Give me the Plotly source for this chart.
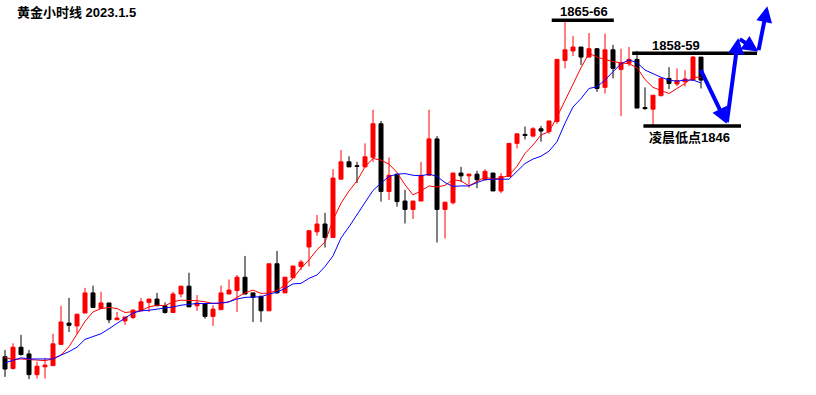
import plotly.graph_objects as go

# ---- data (hourly gold candles) ----
open_ = [1804.8, 1802.7, 1806.5, 1805.3, 1801.6, 1803.0, 1803.2, 1807.0, 1810.8, 1810.3,
         1812.6, 1816.2, 1813.4, 1814.4, 1811.4, 1811.2, 1811.8, 1813.0, 1814.5, 1815.1,
         1813.9, 1812.7, 1816.0, 1817.4, 1813.9, 1814.3, 1812.0, 1813.2, 1816.0, 1816.6,
         1819.0, 1816.2, 1815.6, 1813.0, 1821.4, 1816.2, 1818.9, 1820.9, 1824.4, 1827.1,
         1828.5, 1826.1, 1836.5, 1839.6, 1838.9, 1838.7, 1840.4, 1846.4, 1834.3, 1837.4,
         1832.6, 1831.1, 1832.6, 1837.2, 1843.7, 1831.1, 1832.3, 1837.6, 1837.1, 1837.4,
         1836.4, 1837.6, 1834.4, 1837.0, 1842.9, 1844.5, 1844.2, 1845.5, 1845.0, 1846.8,
         1857.7, 1859.4, 1860.1, 1858.3, 1859.8, 1852.9, 1859.6, 1856.1, 1857.2, 1857.9,
         1849.3, 1849.0, 1851.4, 1854.5, 1853.5, 1853.9, 1854.2, 1858.3]
high = [1806.0, 1807.2, 1808.7, 1806.0, 1803.9, 1804.6, 1808.9, 1813.9, 1815.3, 1812.4,
        1817.1, 1817.5, 1816.4, 1814.4, 1812.8, 1811.9, 1813.3, 1815.3, 1815.1, 1816.2,
        1814.5, 1816.4, 1817.4, 1819.8, 1815.8, 1814.3, 1814.0, 1817.5, 1818.6, 1819.4,
        1822.8, 1816.2, 1815.6, 1821.4, 1823.7, 1819.0, 1821.0, 1822.1, 1827.3, 1830.1,
        1830.5, 1838.3, 1841.7, 1840.6, 1839.6, 1842.9, 1848.9, 1846.9, 1840.4, 1837.4,
        1834.6, 1832.6, 1839.6, 1848.9, 1844.2, 1832.4, 1837.6, 1838.7, 1837.5, 1838.0,
        1838.3, 1837.6, 1837.6, 1842.9, 1844.6, 1845.9, 1845.8, 1846.0, 1846.9, 1857.9,
        1864.8, 1862.1, 1860.1, 1862.6, 1859.9, 1862.5, 1860.5, 1859.8, 1860.1, 1859.4,
        1852.9, 1851.5, 1854.5, 1856.5, 1856.3, 1856.0, 1858.5, 1858.3]
low = [1801.2, 1802.5, 1805.0, 1800.8, 1800.9, 1800.9, 1803.2, 1807.0, 1809.2, 1808.9,
       1812.6, 1813.6, 1813.4, 1810.8, 1811.4, 1810.5, 1811.5, 1813.0, 1812.8, 1813.9,
       1812.5, 1812.7, 1815.4, 1813.7, 1813.0, 1811.6, 1810.3, 1813.2, 1816.0, 1812.8,
       1816.0, 1811.0, 1811.0, 1813.0, 1816.1, 1816.2, 1818.9, 1820.3, 1820.9, 1826.4,
       1824.3, 1826.1, 1836.5, 1838.7, 1835.8, 1838.7, 1839.6, 1832.5, 1832.8, 1831.6,
       1828.6, 1829.4, 1832.6, 1837.2, 1825.2, 1825.9, 1832.0, 1836.0, 1835.0, 1834.9,
       1836.4, 1834.4, 1834.0, 1837.0, 1842.0, 1843.6, 1844.0, 1843.2, 1844.6, 1846.4,
       1856.3, 1858.5, 1856.9, 1858.3, 1852.1, 1851.8, 1854.5, 1847.8, 1856.7, 1849.2,
       1848.9, 1846.2, 1851.4, 1852.6, 1853.1, 1853.1, 1854.2, 1852.7]
close = [1802.6, 1806.5, 1805.2, 1801.6, 1803.1, 1803.3, 1807.1, 1811.0, 1810.4, 1812.4,
         1816.2, 1813.6, 1814.4, 1811.4, 1811.7, 1811.9, 1813.1, 1814.6, 1815.1, 1813.9,
         1812.7, 1816.0, 1817.4, 1813.7, 1814.4, 1812.0, 1813.3, 1816.2, 1816.7, 1819.0,
         1816.0, 1815.4, 1813.0, 1821.4, 1816.2, 1819.0, 1821.0, 1821.7, 1827.3, 1828.5,
         1826.1, 1836.7, 1839.6, 1838.7, 1838.8, 1840.5, 1846.4, 1834.3, 1837.2, 1832.5,
         1831.1, 1832.6, 1837.2, 1843.7, 1831.1, 1832.4, 1837.6, 1837.1, 1837.4, 1836.4,
         1837.9, 1834.4, 1837.0, 1842.9, 1844.6, 1844.3, 1845.5, 1845.1, 1846.9, 1857.9,
         1859.6, 1860.1, 1858.3, 1859.8, 1852.7, 1859.6, 1856.3, 1857.3, 1857.9, 1849.2,
         1849.1, 1851.5, 1854.5, 1853.6, 1854.1, 1854.4, 1858.3, 1854.2]
ma_fast = [1804.7, 1804.3, 1804.4, 1804.3, 1804.1, 1804.1, 1804.4, 1805.1, 1806.6, 1808.9,
           1811.1, 1812.8, 1813.4, 1813.6, 1813.4, 1812.7, 1812.8, 1813.0, 1813.7, 1814.0,
           1813.9, 1814.6, 1814.9, 1814.9, 1814.8, 1814.6, 1814.3, 1814.3, 1814.6, 1815.4,
           1816.2, 1816.7, 1816.1, 1816.2, 1816.6, 1817.6, 1818.8, 1820.6, 1822.1, 1823.9,
           1825.3, 1829.2, 1832.2, 1834.4, 1836.2, 1838.7, 1840.2, 1839.9, 1839.2, 1837.7,
           1835.5, 1833.7, 1834.4, 1835.3, 1835.1, 1835.4, 1836.4, 1836.2, 1835.3, 1836.1,
           1836.9, 1836.5, 1836.7, 1837.2, 1838.8, 1841.1, 1842.6, 1844.4, 1845.0, 1847.6,
           1850.6, 1853.7, 1856.4, 1859.0, 1858.3, 1857.9, 1857.5, 1857.3, 1857.1, 1856.4,
           1854.3, 1852.9, 1852.3, 1851.8, 1852.7, 1853.6, 1854.7, 1854.7]
ma_slow = [1803.7, 1804.2, 1804.6, 1804.4, 1804.4, 1804.4, 1804.4, 1805.1, 1805.7, 1806.5,
           1807.9, 1808.4, 1808.9, 1809.8, 1810.8, 1811.7, 1812.6, 1813.0, 1813.1, 1813.3,
           1813.4, 1813.7, 1814.0, 1814.2, 1814.3, 1814.3, 1814.3, 1814.4, 1814.6, 1815.1,
           1815.4, 1815.4, 1815.5, 1816.0, 1816.3, 1817.0, 1817.8, 1817.9, 1818.8, 1819.4,
           1820.9, 1822.8, 1826.0, 1828.0, 1830.1, 1832.2, 1834.5, 1835.8, 1837.0, 1837.4,
           1837.5, 1837.2, 1837.1, 1837.4, 1837.0, 1835.9, 1835.2, 1835.3, 1835.3, 1835.9,
           1836.4, 1836.5, 1836.5, 1836.5, 1837.9, 1839.3, 1840.1, 1840.6, 1841.5, 1843.2,
           1846.5, 1849.4, 1850.9, 1852.7, 1853.0, 1854.2, 1855.7, 1857.1, 1857.8, 1857.3,
           1856.0, 1855.3, 1854.7, 1854.2, 1854.0, 1854.2, 1854.2, 1853.7]
bars = list(range(len(open_)))

# annotation levels / forecast path (in bar index / price units)
title_text = "黄金小时线 2023.1.5"
level_high_label = "1865-66"
level_high = 1864.9
level_high_span = [68.34, 76.1]
level_mid_label = "1858-59"
level_mid = 1859.0
level_mid_span = [78.4, 94.0]
level_low_label = "凌晨低点1846"
level_low = 1846.0
level_low_span = [79.8, 92.0]
path_x = [86.875, 90.21, 91.66, 94.16, 95.29]
path_y = [1856.3, 1846.4, 1861.7, 1859.3, 1867.4]

RED = "#FF0000"
BLACK = "#000000"
BLUE = "#0000FF"
FONT = "Liberation Sans, Noto Sans CJK SC, sans-serif"

fig = go.Figure()
fig.add_trace(go.Candlestick(
    x=bars, open=open_, high=high, low=low, close=close,
    increasing=dict(line=dict(color=RED, width=1), fillcolor=RED),
    decreasing=dict(line=dict(color=BLACK, width=1), fillcolor=BLACK),
    whiskerwidth=0, showlegend=False, hoverinfo="skip",
))
fig.add_trace(go.Scatter(x=bars, y=ma_fast, mode="lines",
                         line=dict(color=RED, width=1), showlegend=False, hoverinfo="skip"))
fig.add_trace(go.Scatter(x=bars, y=ma_slow, mode="lines",
                         line=dict(color=BLUE, width=1), showlegend=False, hoverinfo="skip"))

for span, lvl in [(level_high_span, level_high), (level_mid_span, level_mid),
                  (level_low_span, level_low)]:
    fig.add_shape(type="line", x0=span[0], x1=span[1], y0=lvl, y1=lvl,
                  xref="x", yref="y", line=dict(color=BLACK, width=3.5))

ann = []
ann.append(dict(text="<b>" + title_text + "</b>", xref="paper", yref="paper",
                x=15 / 816, y=1 - 12.5 / 395, xanchor="left", yanchor="middle",
                showarrow=False, font=dict(family=FONT, size=13, color=BLACK)))
ann.append(dict(text="<b>" + level_high_label + "</b>", x=72.4, y=1866.4,
                xanchor="center", yanchor="middle", showarrow=False,
                font=dict(family=FONT, size=13, color=BLACK)))
ann.append(dict(text="<b>" + level_mid_label + "</b>", x=83.9, y=1860.4,
                xanchor="center", yanchor="middle", showarrow=False,
                font=dict(family=FONT, size=13, color=BLACK)))
ann.append(dict(text="<b>" + level_low_label + "</b>", x=85.6, y=1843.9,
                xanchor="center", yanchor="middle", showarrow=False,
                font=dict(family=FONT, size=13, color=BLACK)))
for k in range(1, len(path_x)):
    ann.append(dict(x=path_x[k], y=path_y[k], ax=path_x[k - 1], ay=path_y[k - 1],
                    xref="x", yref="y", axref="x", ayref="y", text="",
                    showarrow=True, arrowhead=2, arrowsize=0.8, arrowwidth=4,
                    arrowcolor=BLUE, standoff=0, startstandoff=0))

fig.update_layout(
    width=816, height=395,
    margin=dict(l=0, r=0, t=0, b=0),
    paper_bgcolor="white", plot_bgcolor="white",
    boxgap=0.5, boxgroupgap=0,
    xaxis=dict(range=[-0.625, 101.375], visible=False, rangeslider=dict(visible=False),
               fixedrange=True),
    yaxis=dict(range=[1797.964, 1868.5], visible=False, fixedrange=True),
    annotations=ann,
)

fig.write_html("out.html", config={"displayModeBar": False},
               post_script="document.body.style.margin='0';document.body.style.overflow='hidden';")
